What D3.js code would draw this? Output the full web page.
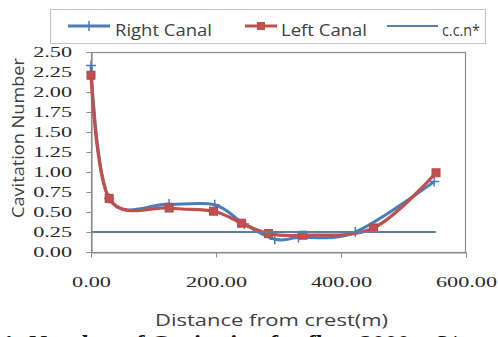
<!DOCTYPE html>
<html>
<head>
<meta charset="utf-8">
<script src="https://cdn.jsdelivr.net/npm/d3@7"></script>
<style>
  html, body { margin: 0; padding: 0; background: #fff; }
  svg { display: block; }
</style>
</head>
<body>
<svg id="chart" width="498" height="337"></svg>
<script>
// Cavitation number along the spillway chute (distance from crest, m)
const rightDist = [0, 29, 125, 198, 245, 294, 332, 423, 549];
const rightCav  = [2.33, 0.67, 0.60, 0.59, 0.35, 0.16, 0.18, 0.25, 0.88];
const leftDist  = [0, 29, 125, 196, 241, 284, 339, 452, 552];
const leftCav   = [2.21, 0.67, 0.55, 0.51, 0.36, 0.23, 0.21, 0.30, 0.99];
// critical cavitation number
const ccnDist   = [0, 552];
const ccnValue  = [0.25, 0.25];

const xTicks = [0, 200, 400, 600];
const yTicks = [0, 0.25, 0.5, 0.75, 1.0, 1.25, 1.5, 1.75, 2.0, 2.25, 2.5];
const seriesNames = ["Right Canal", "Left Canal", "c.c.n*"];

const BLUE = "#4a7ebb", RED = "#c0504d", CCN = "#5f7ea3";
const svg = d3.select("#chart");

const plot = { left: 91, right: 466, top: 52, bottom: 252 };
const x = d3.scaleLinear().domain([0, 600]).range([plot.left, plot.right]);
const y = d3.scaleLinear().domain([0, 2.5]).range([plot.bottom, plot.top]);

const zip = (xs, ys) => xs.map((d, i) => [d, ys[i]]);
const rightPts = zip(rightDist, rightCav);
const leftPts = zip(leftDist, leftCav);
const ccnPts = zip(ccnDist, ccnValue);

// plot area frame
svg.append("rect")
  .attr("x", plot.left + 0.5).attr("y", plot.top + 0.5)
  .attr("width", plot.right - plot.left - 1).attr("height", plot.bottom - plot.top)
  .attr("fill", "none").attr("stroke", "#8c8c8c").attr("stroke-width", 1.2);

const TX = 1.48; // horizontal stretch of the tick lettering

// y axis
const yAxis = svg.append("g")
  .attr("transform", `translate(${plot.left + 0.5},0)`)
  .call(d3.axisLeft(y).tickValues(yTicks).tickSize(5).tickSizeOuter(0).tickFormat(d3.format(".2f")));
yAxis.select(".domain").attr("stroke", "#8c8c8c").attr("stroke-width", 1.2);
yAxis.selectAll(".tick line").attr("stroke", "#8c8c8c");
yAxis.selectAll(".tick text")
  .attr("x", -19.5 / TX)
  .attr("transform", `scale(${TX},1)`)
  .attr("font-family", "'Liberation Serif', 'Times New Roman', serif")
  .attr("font-size", 15).attr("fill", "#2a2a2a");

// x axis
const xAxis = svg.append("g")
  .attr("transform", `translate(0,${plot.bottom + 0.5})`)
  .call(d3.axisBottom(x).tickValues(xTicks).tickSize(5).tickSizeOuter(0).tickFormat(d3.format(".2f")));
xAxis.select(".domain").attr("stroke", "#8c8c8c").attr("stroke-width", 1.2);
xAxis.selectAll(".tick line").attr("stroke", "#8c8c8c");
xAxis.selectAll(".tick text")
  .attr("y", 34.5).attr("dy", 0)
  .attr("transform", `scale(${TX},1)`)
  .attr("font-family", "'Liberation Serif', 'Times New Roman', serif")
  .attr("font-size", 15).attr("fill", "#2a2a2a");

// smoothed series lines
const line = d3.line().x(d => x(d[0])).y(d => y(d[1])).curve(d3.curveCardinal.tension(0));

svg.append("path").datum(rightPts)
  .attr("d", line).attr("fill", "none").attr("stroke", BLUE).attr("stroke-width", 3);
svg.selectAll(".mR").data(rightPts).join("path")
  .attr("class", "mR")
  .attr("d", d => `M${x(d[0]) - 5},${y(d[1])}h10M${x(d[0])},${y(d[1]) - 5}v10`)
  .attr("stroke", BLUE).attr("stroke-width", 1.5);

svg.append("path").datum(leftPts)
  .attr("d", line).attr("fill", "none").attr("stroke", RED).attr("stroke-width", 3.2);
svg.selectAll(".mL").data(leftPts).join("rect")
  .attr("class", "mL")
  .attr("x", d => x(d[0]) - 4).attr("y", d => y(d[1]) - 4)
  .attr("width", 8).attr("height", 8)
  .attr("fill", RED).attr("stroke", "#b84542").attr("stroke-width", 1);

svg.append("path").datum(ccnPts)
  .attr("d", d3.line().x(d => x(d[0])).y(d => y(d[1])))
  .attr("fill", "none").attr("stroke", CCN).attr("stroke-width", 2);

// axis titles
svg.append("text")
  .attr("transform", `translate(24,138) rotate(-90)`)
  .attr("text-anchor", "middle")
  .attr("textLength", 160).attr("lengthAdjust", "spacingAndGlyphs")
  .attr("font-family", "'Open Sans', sans-serif").attr("font-size", 17)
  .attr("fill", "#404040")
  .text("Cavitation Number");

svg.append("text")
  .attr("x", 155).attr("y", 326)
  .attr("textLength", 233).attr("lengthAdjust", "spacingAndGlyphs")
  .attr("font-family", "'Open Sans', sans-serif").attr("font-size", 16)
  .attr("fill", "#404040")
  .text("Distance from crest(m)");

// legend
const legend = svg.append("g");
legend.append("rect")
  .attr("x", 50.5).attr("y", 9.5).attr("width", 435).attr("height", 34)
  .attr("fill", "#fff").attr("stroke", "#c4c4c4");
const legendItems = [
  { name: seriesNames[0], color: BLUE, x0: 68, x1: 110, tx: 115, tw: 97, mark: "plus" },
  { name: seriesNames[1], color: RED, x0: 245, x1: 277, tx: 281, tw: 86, mark: "square" },
  { name: seriesNames[2], color: CCN, x0: 387, x1: 438, tx: 442, tw: 38, mark: null }
];
const ly = 26;
legendItems.forEach(it => {
  legend.append("line")
    .attr("x1", it.x0).attr("x2", it.x1).attr("y1", ly).attr("y2", ly)
    .attr("stroke", it.color).attr("stroke-width", it.mark ? 3 : 2);
  const mx = (it.x0 + it.x1) / 2;
  if (it.mark === "plus") {
    legend.append("path").attr("d", `M${mx - 5},${ly}h10M${mx},${ly - 5}v10`)
      .attr("stroke", it.color).attr("stroke-width", 1.5);
  } else if (it.mark === "square") {
    legend.append("rect").attr("x", mx - 4).attr("y", ly - 4).attr("width", 8).attr("height", 8)
      .attr("fill", it.color);
  }
  legend.append("text")
    .attr("x", it.tx).attr("y", 36)
    .attr("textLength", it.tw).attr("lengthAdjust", "spacingAndGlyphs")
    .attr("font-family", "'Open Sans', sans-serif").attr("font-size", 17)
    .attr("fill", "#404040")
    .text(it.name);
});

// figure caption (runs off the lower edge)
svg.append("text")
  .attr("x", 2).attr("y", 350)
  .attr("textLength", 464).attr("lengthAdjust", "spacingAndGlyphs")
  .attr("font-family", "'Liberation Serif', 'Times New Roman', serif")
  .attr("font-weight", "bold").attr("font-size", 20)
  .attr("fill", "#111")
  .text("1: Number of Cavitation for flow 2000 m3/s");
</script>
</body>
</html>
